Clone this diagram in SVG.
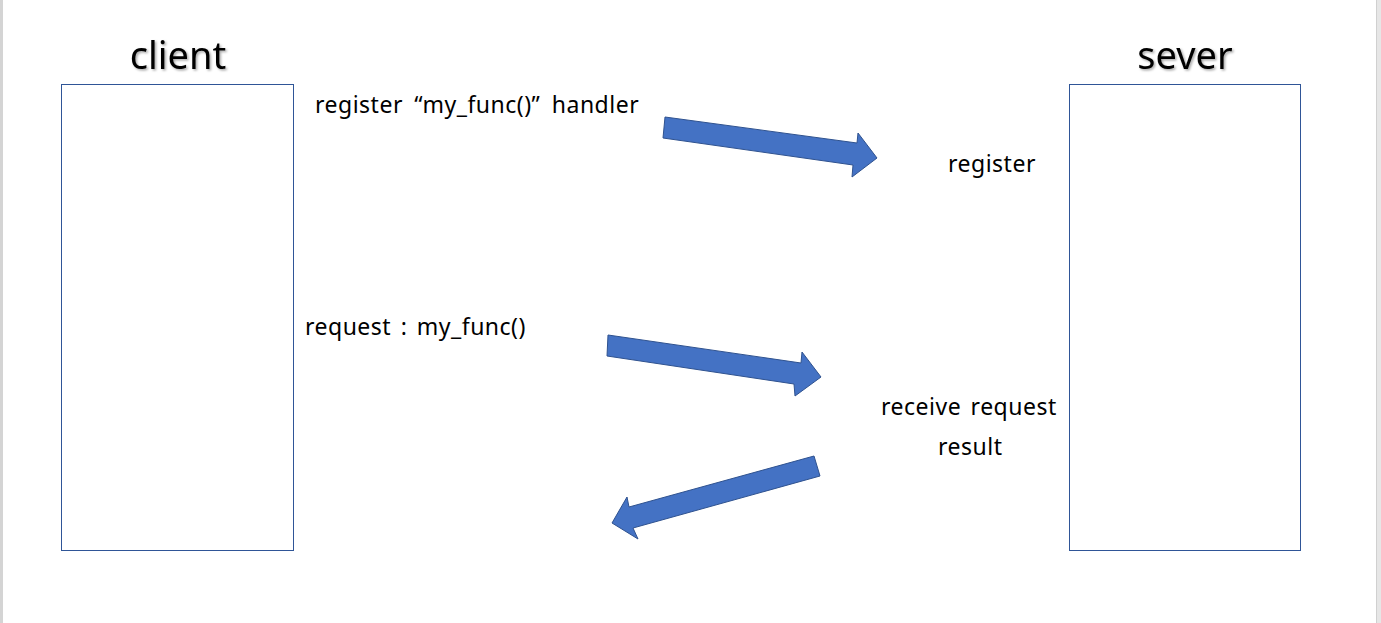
<svg xmlns="http://www.w3.org/2000/svg" width="1381" height="623" viewBox="0 0 1381 623">
<defs>
<filter id="sh" x="-10%" y="-10%" width="130%" height="140%"><feDropShadow dx="1.5" dy="1.5" stdDeviation="1" flood-color="#000" flood-opacity="0.35"/></filter>
</defs>
<style>
.box{fill:#fff;stroke:#2f5597;stroke-width:1}
.title{font-family:"Noto Sans","Open Sans",sans-serif;font-size:38px;fill:#000;text-anchor:middle}
.lbl{font-family:"Noto Sans","Open Sans",sans-serif;font-size:23px;letter-spacing:0.5px;word-spacing:3px;fill:#000}
.arr{fill:#4472c4;stroke:#2f528f;stroke-width:1}
</style>
<rect x="0" y="0" width="1381" height="623" fill="#fff"/>
<rect x="0" y="0" width="3" height="623" fill="#d4d4d4"/>
<rect x="1376" y="0" width="5" height="623" fill="#e6e6e6"/>
<rect x="1376" y="0" width="1" height="623" fill="#d0d0d0"/>
<g id="client">
<text class="title" x="178" y="69" filter="url(#sh)">client</text>
<rect class="box" x="61.5" y="84.5" width="232" height="466"/>
</g>
<g id="server">
<text class="title" x="1185" y="69" filter="url(#sh)">sever</text>
<rect class="box" x="1069.5" y="84.5" width="231" height="466"/>
</g>
<g id="labels">
<text class="lbl" x="315" y="113" style="word-spacing:5px">register “my_func()” handler</text>
<text class="lbl" x="948" y="172">register</text>
<text class="lbl" x="305" y="335">request : my_func()</text>
<text class="lbl" x="881" y="415">receive request</text>
<text class="lbl" x="938" y="455">result</text>
</g>
<g id="connectors">
<polygon class="arr" points="665,117 857,143 858,133 877,158 852,177 853,165 663,138"/>
<polygon class="arr" points="608,335 801,363 802,352 821,377 795,396 794,384 607,356"/>
<polygon class="arr" points="814,456 820,476 633,528 638,539 612,523 627,497 629,507"/>
</g>
</svg>
